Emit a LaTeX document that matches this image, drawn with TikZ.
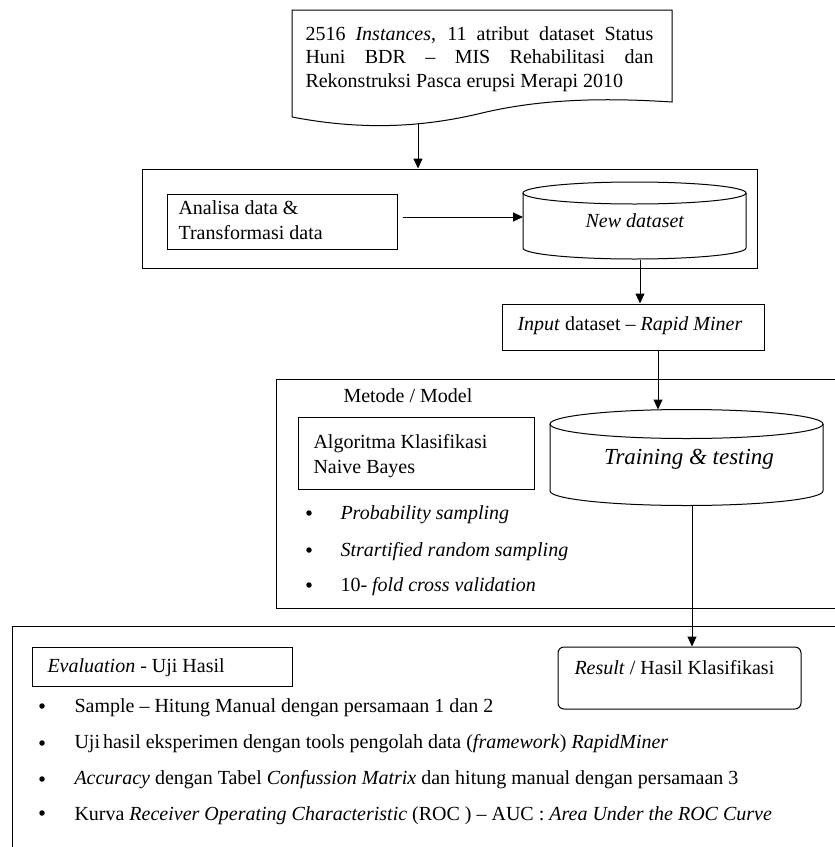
\documentclass[tikz,border=0pt]{standalone}
\usepackage{fontspec}
\setmainfont{Liberation Serif}
\usetikzlibrary{arrows.meta}
\begin{document}
\begin{tikzpicture}[x=1pt,y=-1pt, line width=1pt,
  lbl/.style={inner sep=0pt, anchor=base west, font=\fontsize{20}{24}\selectfont},
  arr/.style={-{Triangle[length=10pt,width=9pt]}},
  box/.style={draw, inner sep=0pt},
  dot/.style={circle, fill, draw=none, inner sep=0pt, minimum size=5.5pt}]
\useasboundingbox (0,0) rectangle (835,847);
\begin{scope}
\clip (0,0) rectangle (835,847);

% document shape
\draw (292,117) -- (292,10) -- (672,10) -- (672,102)
  .. controls (610,98) and (545,98) .. (482,113)
  .. controls (420,128) and (360,130) .. (292,117);
\node[lbl, text width=348pt, align=justify, font=\fontsize{20}{23.5}\selectfont] (doctext) at (305,40)
  {2516 \textit{Instances}, 11 atribut dataset Status\linebreak Huni BDR – MIS Rehabilitasi dan\linebreak Rekonstruksi Pasca erupsi Merapi 2010};
\coordinate (docbot) at (418,124);

% preprocessing box
\node[box, minimum width=615pt, minimum height=99.5pt] (prep) at (449.5,218.75) {};
\node[box, minimum width=230pt, minimum height=55pt] (analisa) at (282,221.5) {};
\node[lbl] (an1) at (178,214) {Analisa data \&};
\node[lbl] (an2) at (178,239) {Transformasi data};

% new dataset cylinder
\draw (523,193) -- (523,248) arc[start angle=180, end angle=360, x radius=111.5pt, y radius=11pt] -- (746,193);
\draw (634.5,193) ellipse [x radius=111.5pt, y radius=11pt];
\node[lbl, anchor=base] (newds) at (635,227) {\textit{New dataset}};
\coordinate (ndleft) at (523,217);
\coordinate (ndbot) at (640,259.5);

% input box
\node[box, minimum width=262pt, minimum height=46.5pt] (input) at (633,327.25) {};
\node[lbl] (inputtext) at (517,330) {\textit{Input} dataset – \textit{Rapid Miner}};

% metode box
\node[box, minimum width=574pt, minimum height=229pt] (metode) at (563,493.5) {};
\node[lbl] (metodetext) at (343,402) {Metode / Model};
\node[box, minimum width=236pt, minimum height=72pt] (algo) at (416,453) {};
\node[lbl] (al1) at (313,448) {Algoritma Klasifikasi};
\node[lbl] (al2) at (313,473) {Naive Bayes};
\node[dot] (md1) at (309,513) {};
\node[dot] (md2) at (309,550) {};
\node[dot] (md3) at (309,585) {};
\node[lbl] (mt1) at (340,519) {\textit{Probability sampling}};
\node[lbl] (mt2) at (340,556) {\textit{Strartified random sampling}};
\node[lbl] (mt3) at (340,591) {10- \textit{fold cross validation}};

% training cylinder
\draw (550,424) -- (550,491) arc[start angle=180, end angle=360, x radius=136.5pt, y radius=14.5pt] -- (823,424);
\draw (686.5,424) ellipse [x radius=136.5pt, y radius=14.5pt];
\node[inner sep=0pt, anchor=base, font=\fontsize{23}{28}\selectfont\itshape] (trtext) at (689,464) {Training \& testing};
\coordinate (trtop) at (658,409.5);
\coordinate (trbot) at (692,505.5);

% evaluation box
\node[box, minimum width=838pt, minimum height=244pt] (evalbox) at (431,748) {};
\node[box, minimum width=260pt, minimum height=39pt] (evalhead) at (162,666.5) {};
\node[lbl] (evaltext) at (47,672) {\textit{Evaluation} - Uji Hasil};
\node[box, rounded corners=6pt, minimum width=243pt, minimum height=62pt] (result) at (679.5,678) {};
\node[lbl] (resulttext) at (574,674) {\textit{Result} / Hasil Klasifikasi};
\node[dot] (ed1) at (42,706) {};
\node[dot] (ed2) at (42,743) {};
\node[dot] (ed3) at (42,779) {};
\node[dot] (ed4) at (42,813) {};
\node[lbl] (et1) at (74,712) {Sample – Hitung Manual dengan persamaan 1 dan 2};
\node[lbl] (et2) at (74,748) {Uji\hspace{3pt}hasil eksperimen dengan tools pengolah data (\textit{framework}) \textit{RapidMiner}};
\node[lbl] (et3) at (74,784) {\textit{Accuracy} dengan Tabel \textit{Confussion Matrix} dan hitung manual dengan persamaan 3};
\node[lbl] (et4) at (74,820) {Kurva \textit{Receiver Operating Characteristic} (ROC ) – AUC : \textit{Area Under the ROC Curve}};

% connectors
\draw[arr] (docbot) -- (docbot |- prep.north);
\draw[arr, shorten <=5pt] (analisa.east |- ndleft) -- (ndleft);
\draw[arr] (ndbot) -- (ndbot |- input.north);
\draw[arr] (input.south -| trtop) -- (trtop);
\draw[arr] (trbot) -- (trbot |- result.north);
\end{scope}
\end{tikzpicture}
\end{document}
